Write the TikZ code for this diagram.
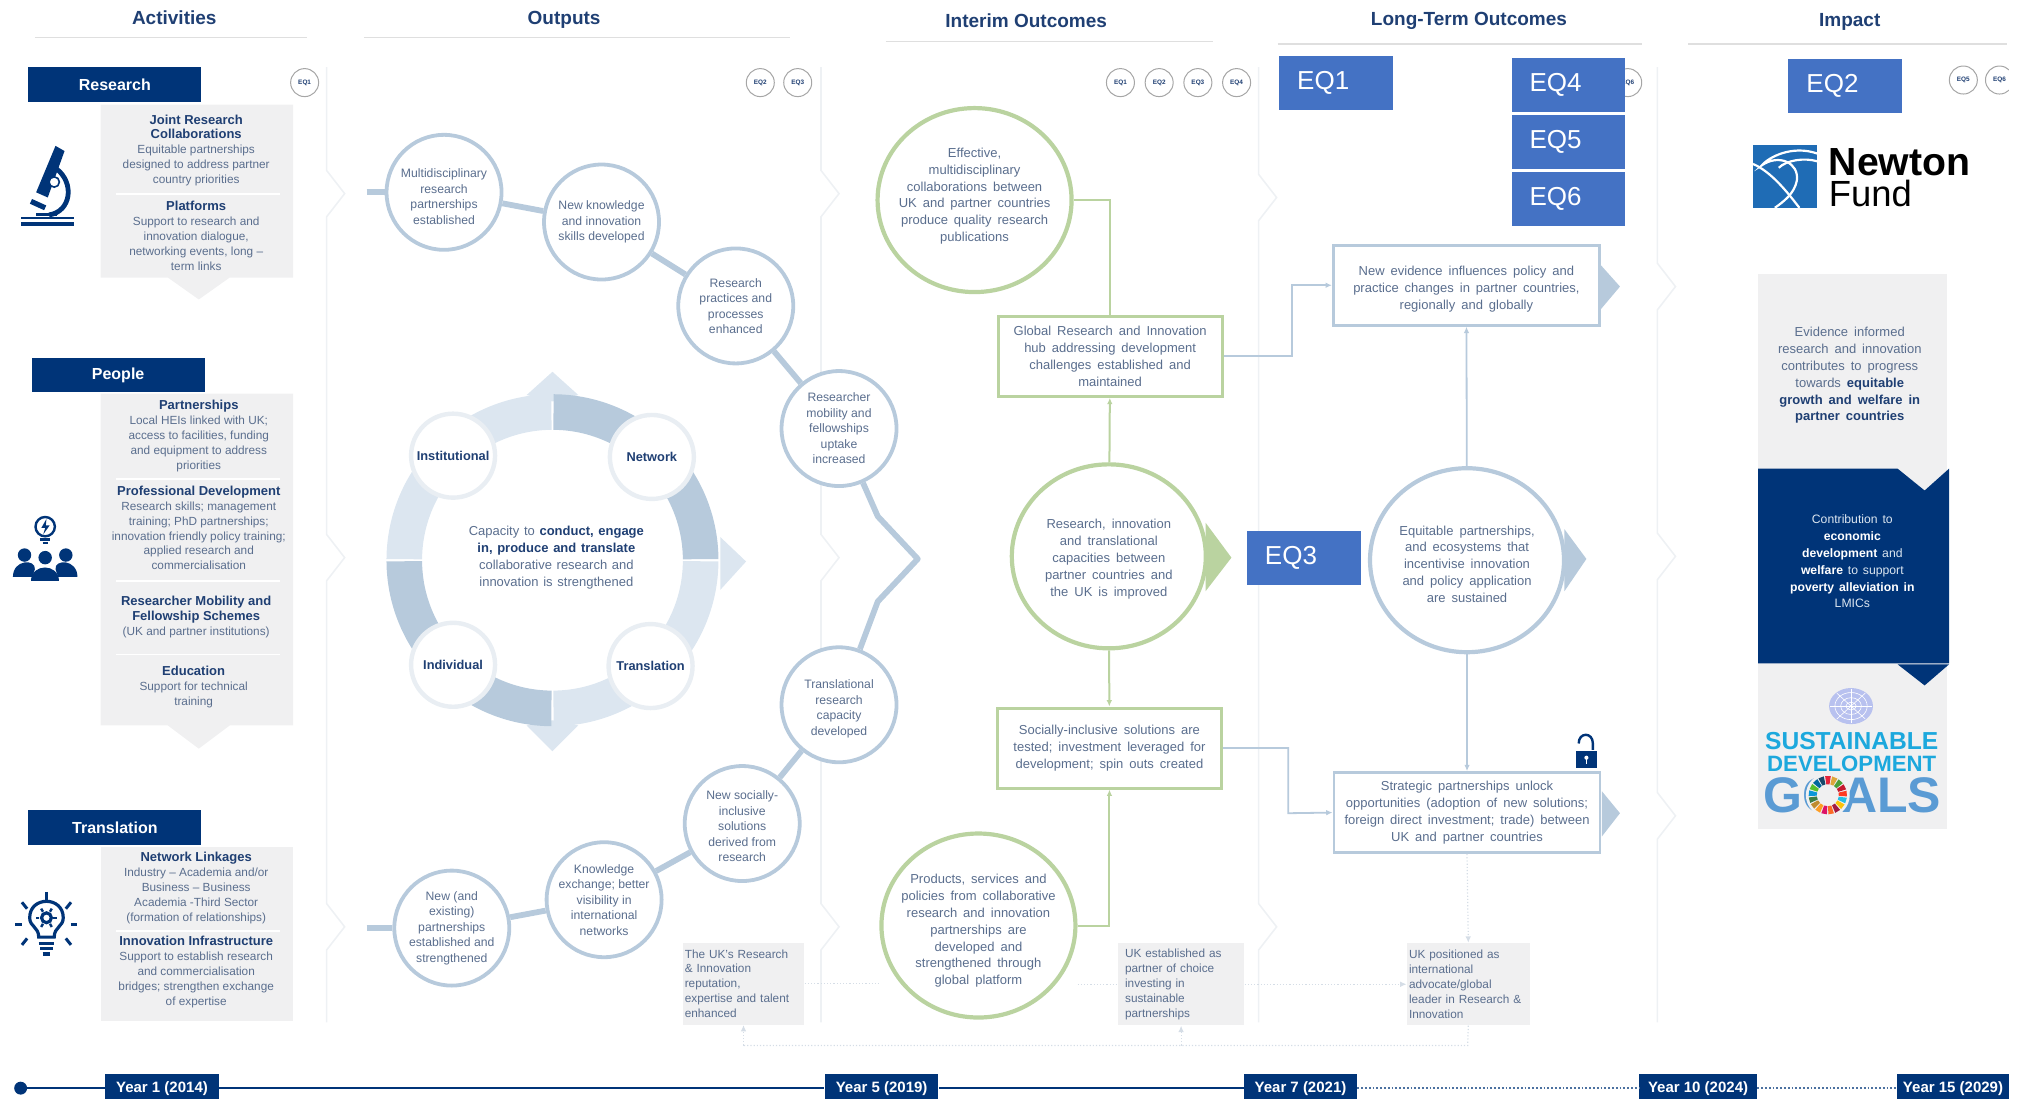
\documentclass[tikz,border=0pt]{standalone}
\usepackage{fontspec}
\setmainfont{Liberation Sans}
\usetikzlibrary{arrows.meta,shapes.geometric}
\definecolor{navy}{HTML}{003478}
\definecolor{txt}{HTML}{5A6E8E}
\definecolor{boldt}{HTML}{1F3F73}
\definecolor{ringd}{HTML}{B7CADC}
\definecolor{ringl}{HTML}{DCE6F0}
\definecolor{greenc}{HTML}{BAD3A0}
\definecolor{eqblue}{HTML}{4472C4}
\definecolor{graybox}{HTML}{F0F0F1}
\definecolor{chev}{HTML}{EEF1F4}
\definecolor{dotc}{HTML}{D5DDE6}
\definecolor{sdgc}{HTML}{1CA8DD}
\definecolor{sdgg}{HTML}{5A9BD4}
\definecolor{nfblue}{HTML}{1F6CB5}
\newcommand{\fA}{\fontsize{5.9}{7.45}\selectfont}
\newcommand{\fB}{\fontsize{6.1}{7.75}\selectfont}
\newcommand{\fC}{\fontsize{6.5}{8.4}\selectfont\spaceskip=.46em\relax}
\newcommand{\fD}{\fontsize{6.5}{8.4}\selectfont\spaceskip=.36em\relax}
\newcommand{\fE}{\fontsize{6.1}{8.4}\selectfont\spaceskip=.4em\relax}
\newcommand{\bb}[1]{\textbf{\textcolor{boldt}{#1}}}
\newcommand{\hh}[1]{\textbf{\textcolor{boldt}{\fontsize{6.5}{7.45}\selectfont #1}}}
\newcommand{\wb}[1]{\textbf{\textcolor{white}{#1}}}
\newcommand{\dn}[1]{\rule{0pt}{#1}}
\tikzset{
  x=0.6454pt,y=-0.6454pt,
  header/.style={font=\fontsize{9.5}{11}\selectfont\bfseries,text=boldt},
  navbox/.style={fill=navy,text=white,font=\fontsize{8}{10}\selectfont\bfseries,minimum width=86.5pt,minimum height=17.2pt,inner sep=0},
  body/.style={font=\fA,text=txt,align=center,inner sep=0},
  eqsmall/.style={circle,draw=gray!70,fill=white,line width=.5pt,minimum size=14pt,inner sep=0,font=\fontsize{3.2}{4}\selectfont\bfseries,text=boldt},
  eqbox/.style={fill=eqblue,text=white,font=\fontsize{13}{15}\selectfont,minimum height=27pt,text width=38.8pt,inner xsep=9pt,inner ysep=0,align=left},
  ocirc/.style={circle,draw=ringd,fill=white,line width=1.9pt,minimum size=57.5pt,inner sep=-1.5pt,font=\fB,text=txt,align=center},
  rcirc/.style={circle,draw=chev!70!ringl,fill=white,line width=2.2pt,minimum size=42pt,inner sep=-2pt,font=\fontsize{6.4}{8}\selectfont\bfseries,text=boldt},
  bigell/.style={ellipse,fill=white,minimum width=97pt,minimum height=92pt,inner sep=-6pt,font=\fC,text=txt,align=center},
  gc/.style={bigell,draw=greenc,line width=2.1pt},
  bc/.style={bigell,draw=ringd,line width=2.1pt},
  gbox/.style={draw=greenc,fill=white,line width=1.5pt,inner sep=0,font=\fC,text=txt,align=center,minimum width=112pt,minimum height=40pt},
  bbox/.style={draw=ringd,fill=white,line width=1.4pt,inner sep=0,font=\fC,text=txt,align=center,minimum width=133pt,minimum height=40pt},
  link/.style={draw=ringd,line width=2.9pt},
  gline/.style={draw=greenc,line width=1pt},
  bline/.style={draw=ringd,line width=.9pt},
  tip/.style={-{Latex[length=3.2pt,width=2.8pt]}},
  dots/.style={draw=dotc,line width=.6pt,densely dotted},
  chevl/.style={draw=chev,line width=.8pt},
  rulel/.style={draw=gray!25,line width=.7pt},
  year/.style={fill=navy,text=white,font=\fontsize{7.5}{9}\selectfont\bfseries,minimum height=14.2pt,inner sep=0},
  grayt/.style={fill=graybox,text=txt,font=\fA,align=left,inner sep=0,minimum height=41pt,anchor=center},
  tl/.style={draw=navy,line width=1.2pt},
  sepw/.style={draw=white,line width=.9pt},
  icon/.style={draw=navy,line width=1.6pt,line cap=round}
}
\begin{document}
\begin{tikzpicture}
\useasboundingbox (0,0) rectangle (1568,851.4);
% column chevron rules
\foreach \x/\a/\b/\c in {253/150/432/718,636/150/432/718,975/153/431/718,1284/222/431/632}{
  \draw[chevl] (\x,52) -- (\x,\a-18) -- (\x+14,\a) -- (\x,\a+18) -- (\x,\b-18) -- (\x+14,\b) -- (\x,\b+18) -- (\x,\c-18) -- (\x+14,\c) -- (\x,\c+18) -- (\x,792);
}
% headers
\node[header] (hA) at (135,14) {Activities};
\node[header] (hO) at (437,15) {Outputs};
\node[header] (hI) at (795,16) {Interim Outcomes};
\node[header] (hL) at (1138,16) {Long-Term Outcomes};
\fill[white] (1214,4) rectangle (1226,28);
\node[header] (hP) at (1433,17) {Impact};
\draw[rulel] (27,29) -- (238,29);
\draw[rulel] (282,29) -- (612,29);
\draw[rulel] (686,32) -- (940,32);
\draw[rulel] (990,34) -- (1272,34);
\draw[rulel] (1308,34) -- (1555,34);
% activities
\fill[graybox] (78,81) -- (227,81) -- (227,215) -- (178,215) -- (154,232) -- (130,215) -- (78,215) -- cycle;
\fill[graybox] (78,305) -- (227,305) -- (227,562) -- (178,562) -- (154,580) -- (130,562) -- (78,562) -- cycle;
\fill[graybox] (78,656) rectangle (227,791);
\node[navbox] (nR) at (89,65.5) {Research};
\node[navbox] (nP) at (91.5,290.5) {People};
\node[navbox] (nT) at (89,641) {Translation};
\draw[sepw] (90,150) -- (217,150);
\draw[sepw] (90,371) -- (217,371);
\draw[sepw] (90,450) -- (217,450);
\draw[sepw] (90,507) -- (217,507);
\draw[sepw] (90,721) -- (217,721);
\node[body] (t1) at (152,116.5) {\hh{Joint Research}\\\hh{Collaborations}\\Equitable partnerships\\designed to address partner\\country priorities};
\node[body] (t2) at (152,182.5) {\hh{Platforms}\\Support to research and\\innovation dialogue,\\networking events, long –\\term links};
\node[body] (t3) at (154,338) {\hh{Partnerships}\\Local HEIs linked with UK;\\access to facilities, funding\\and equipment to address\\priorities};
\node[body] (t4) at (154,409) {\hh{Professional Development}\\Research skills; management\\training; PhD partnerships;\\innovation friendly policy training;\\applied research and\\commercialisation};
\node[body] (t5) at (152,478) {\hh{Researcher Mobility and}\\\hh{Fellowship Schemes}\\(UK and partner institutions)};
\node[body] (t6) at (150,532) {\hh{Education}\\Support for technical\\training};
\node[body] (t7) at (152,688) {\hh{Network Linkages}\\Industry – Academia and/or\\Business – Business\\Academia -Third Sector\\(formation of relationships)};
\node[body] (t8) at (152,753) {\hh{Innovation Infrastructure}\\Support to establish research\\and commercialisation\\bridges; strengthen exchange\\of expertise};
% small EQ circles
\node[eqsmall] (q1) at (236,64) {EQ1};
\node[eqsmall] (q2) at (589,64) {EQ2};
\node[eqsmall] (q3) at (618,64) {EQ3};
\node[eqsmall] (q4) at (868,64) {EQ1};
\node[eqsmall] (q5) at (898,64) {EQ2};
\node[eqsmall] (q6) at (928,64) {EQ3};
\node[eqsmall] (q7) at (958,64) {EQ4};
\node[eqsmall] (q8) at (1261,64) {EQ6};
\node[eqsmall] (q9) at (1521,62) {EQ5};
\node[eqsmall] (q10) at (1549,62) {EQ6};
\fill[white] (1556,40) rectangle (1568,90);
% icons: microscope
\fill[navy] (16,168) rectangle (57,170);
\fill[navy] (16,172) rectangle (57,175);
\fill[navy] (43,113) -- (50,117) -- (37,153) -- (28,149) -- cycle;
\draw[icon,line width=2.6pt,line cap=butt] (24,156) -- (35,161);
\draw[navy,line width=2.4pt] (44,131) .. controls (58,142) and (55,164) .. (38,166.5);
\draw[navy,line width=1.5pt] (28,166.5) -- (44,166.5);
\draw[navy,fill=white,line width=.8pt] (42,141) circle[radius=4];
% icons: people
\draw[navy,line width=1.2pt] (35,408) circle[radius=7.5];
\fill[navy] (36,402) -- (32,409) -- (35,409) -- (33.5,414) -- (38.5,407) -- (35.5,407) -- cycle;
\draw[navy,line width=1.2pt] (31,418) -- (39,418);
\draw[navy,line width=1pt] (33,421) -- (37,421);
\fill[navy] (19,430) circle[radius=5.2];
\fill[navy] (35,432) circle[radius=5.2];
\fill[navy] (51,430) circle[radius=5.2];
\fill[navy] (10,447) .. controls (10,433) and (28,433) .. (27,441) -- (25,447) -- cycle;
\fill[navy] (60,447) .. controls (60,433) and (42,433) .. (43,441) -- (45,447) -- cycle;
\fill[navy] (24,450) .. controls (24,436) and (46,436) .. (46,450) -- cycle;
% icons: bulb
\draw[navy,line width=1.6pt] (30,726) .. controls (30,718) and (23,718) .. (23,711) .. controls (23,694) and (49,694) .. (49,711) .. controls (49,718) and (42,718) .. (42,726) -- cycle;
\draw[navy,line width=1.6pt] (36,711) circle[radius=3.8];
\foreach \a in {0,60,...,300}{\draw[navy,line width=1.2pt] (36,711) ++(\a:3.5pt) -- ++(\a:1.8pt);}
\draw[navy,line width=1.6pt] (30,731) -- (42,731);
\draw[navy,line width=1.6pt] (31,735) -- (41,735);
\draw[navy,line width=1.6pt] (33,739) -- (39,739);
\foreach \u/\v/\w/\z in {36/691/36/698,12/716/17/716,55/716/60/716,17/699/21/704,55/699/51/704,17/732/21/727,55/732/51/727}{\draw[navy,line width=1.5pt] (\u,\v) -- (\w,\z);}
% output ring
\fill[ringl] (408,306) -- (428,288) -- (448,306) -- (428,311) -- cycle;
\fill[ringl] (558,416) -- (578,435) -- (558,457) -- cycle;
\fill[ringl] (408,562) -- (428,582) -- (448,562) -- (428,558) -- cycle;
\begin{scope}[shift={(428,434)}]
  \foreach \s/\e/\c in {0.4/89.6/ringd,90.4/179.6/ringl,180.4/269.6/ringd,270.4/359.6/ringl}{
    \fill[\c] (\s:83pt) arc[start angle=\s,end angle=\e,radius=83pt] -- (\e:65.2pt) arc[start angle=\e,end angle=\s,radius=65.2pt] -- cycle;
  }
\end{scope}
\node[rcirc] (rI) at (351,353) {Institutional};
\node[rcirc] (rN) at (505,354) {Network};
\node[rcirc] (rD) at (351,515) {Individual};
\node[rcirc] (rT) at (504,516) {Translation};
\node[font=\fD,text=txt,align=center,inner sep=0] (rC) at (431,432) {Capacity to \bb{conduct, engage}\\\bb{in, produce and translate}\\collaborative research and\\innovation is strengthened};
% output chain
\coordinate (s1) at (284,149);
\coordinate (s8) at (284,719);
\coordinate (k1) at (680,400);
\coordinate (k2) at (711,433);
\coordinate (k3) at (680,466);
\node[ocirc] (c1) at (344,149) {\dn{8.5pt}Multidisciplinary\\research\\partnerships\\established};
\node[ocirc] (c2) at (466,172) {New knowledge\\and innovation\\skills developed};
\node[ocirc] (c3) at (570,237) {Research\\practices and\\processes\\enhanced};
\node[ocirc] (c4) at (650,332) {Researcher\\mobility and\\fellowships\\uptake\\increased};
\node[ocirc] (c5) at (650,546) {\dn{8.5pt}Translational\\research\\capacity\\developed};
\node[ocirc] (c6) at (575,638) {\dn{7.2pt}New socially-\\inclusive\\solutions\\derived from\\research};
\node[ocirc] (c7) at (468,697) {Knowledge\\exchange; better\\visibility in\\international\\networks};
\node[ocirc] (c8) at (350,719) {New (and\\existing)\\partnerships\\established and\\strengthened};
\draw[link] (s1) -- (c1);
\draw[link] (c1) -- (c2);
\draw[link] (c2) -- (c3);
\draw[link] (c3) -- (c4);
\draw[link,line join=round] (c4) -- (k1) -- (k2) -- (k3) -- (c5);
\draw[link] (c5) -- (c6);
\draw[link] (c6) -- (c7);
\draw[link] (c7) -- (c8);
\draw[link] (s8) -- (c8);
% interim outcomes
\node[gc] (o1) at (755,155) {Effective,\\multidisciplinary\\collaborations between\\UK and partner countries\\produce quality research\\publications\\[-3.2pt]\mbox{}};
\node[gc] (o2) at (859,431) {\dn{7.5pt}Research, innovation\\and translational\\capacities between\\partner countries and\\the UK is improved};
\node[gc] (o3) at (758,717) {\dn{10.2pt}Products, services and\\policies from collaborative\\research and innovation\\partnerships are\\developed and\\strengthened through\\global platform};
\node[gbox] (g1) at (860,276) {Global Research and Innovation\\hub addressing development\\challenges established and\\maintained};
\node[gbox] (g2) at (859.5,579.5) {Socially-inclusive solutions are\\tested; investment leveraged for\\development; spin outs created};
\fill[greenc] (934,405) -- (954,432) -- (934,458) -- cycle;
\draw[gline] (o1.east) -| (g1.north);
\draw[gline,tip] (o2) -- (g1);
\draw[gline,tip] (o2) -- (g2);
\draw[gline,tip] (o3.east) -| (g2.south);
% long-term outcomes
\node[bbox] (b1) at (1136,221) {\dn{8.5pt}New evidence influences policy and\\practice changes in partner countries,\\regionally and globally};
\node[bbox] (b2) at (1136.5,629.5) {Strategic partnerships unlock\\opportunities (adoption of new solutions;\\foreign direct investment; trade) between\\UK and partner countries};
\node[bc] (l1) at (1136.5,434) {\dn{8.5pt}Equitable partnerships,\\and ecosystems that\\incentivise innovation\\and policy application\\are sustained};
\fill[ringd] (1239.8,205) -- (1255,222) -- (1239.8,240) -- cycle;
\fill[ringd] (1241,613) -- (1255,630) -- (1241,648) -- cycle;
\fill[ringd] (1212,410) -- (1229,433) -- (1212,458) -- cycle;
\coordinate (j1) at (1001,221);
\coordinate (j2) at (998,630);
\draw[bline,tip] (g1.east) -| (j1) -- (b1.west);
\draw[bline,tip] (g2.east) -| (j2) -- (b2.west);
\draw[bline,tip] (l1) -- (b1);
\draw[bline,tip] (l1) -- (b2);
% lock
\draw[navy,line width=1.2pt] (1234,581) -- (1234,576) .. controls (1234,567) and (1223,567) .. (1223,576);
\fill[navy] (1221,582) rectangle (1237,595);
\fill[white] (1229,587) circle[radius=1.6];
\fill[white] (1228.4,587) rectangle (1229.6,592);
% bottom grey text
\node[grayt,text width=60.7pt,inner xsep=0] (gb1) at (576,762) {\hspace*{1pt}The UK's Research\\\hspace*{1pt}\& Innovation\\\hspace*{1pt}reputation,\\\hspace*{1pt}expertise and talent\\\hspace*{1pt}enhanced};
\node[grayt,text width=63pt] (gb2) at (915,762.5) {\hspace*{3.5pt}UK established as\\\hspace*{3.5pt}partner of choice\\\hspace*{3.5pt}investing in\\\hspace*{3.5pt}sustainable\\\hspace*{3.5pt}partnerships};
\node[grayt,text width=61.3pt] (gb3) at (1137.5,762.5) {\hspace*{1pt}UK positioned as\\\hspace*{1pt}international\\\hspace*{1pt}advocate/global\\\hspace*{1pt}leader in Research \&\\\hspace*{1pt}Innovation};
\coordinate (bm) at (1137,810);
\draw[dots] (gb1.east) -- (o3.west |- gb1.east);
\draw[dots] (o3.east |- gb2.west) -- (gb2.west);
\draw[dots,tip] (gb2.east) -- (gb3.west);
\draw[dots] (gb3.south) -- (bm) -- (gb1.south |- bm);
\draw[dots,tip] (gb1.south |- bm) -- (gb1.south);
\draw[dots,tip] (gb2.south |- bm) -- (gb2.south);
\draw[dots,tip] (b2.south) -- (gb3.north);
% EQ boxes
\node[eqbox] (E1) at (1035,64.5) {EQ1};
\node[eqbox] (E4) at (1215,65.5) {EQ4};
\node[eqbox] (E5) at (1215,110) {EQ5};
\node[eqbox] (E6) at (1215,154) {EQ6};
\node[eqbox] (E2) at (1429.5,66.5) {EQ2};
\node[eqbox] (E3) at (1010,432.5) {EQ3};
% Newton Fund logo
\fill[nfblue] (1358,112) rectangle (1408,161);
\draw[white,line width=1.1pt] (1408,119) .. controls (1388,112) and (1370,122) .. (1365,128) .. controls (1378,119) and (1394,126) .. (1392,140) .. controls (1390,150) and (1382,156) .. (1375,161);
\draw[white,line width=1.1pt] (1358,127) .. controls (1372,133) and (1384,148) .. (1394,161);
\draw[white,line width=1.1pt] (1408,125) .. controls (1398,122) and (1384,124) .. (1378,130);
\node[font=\fontsize{19.6}{22}\selectfont\bfseries,text=black,anchor=base west,inner sep=0] (nf1) at (1416.5,136) {Newton};
\node[font=\fontsize{18.2}{20}\selectfont,text=black,anchor=base west,inner sep=0] (nf2) at (1416.5,160) {Fund};
% Impact panel
\fill[graybox] (1362,212) rectangle (1508,642);
\fill[navy] (1362,363) -- (1470,363) -- (1491,380) -- (1510,363) -- (1510,514) -- (1362,514) -- cycle;
\fill[navy] (1470,514.6) -- (1491,531) -- (1510,514.6) -- cycle;
\node[font=\fC,text=txt,align=center,inner sep=0] (i1) at (1433,291) {Evidence informed\\research and innovation\\contributes to progress\\towards \bb{equitable}\\\bb{growth and welfare in}\\\bb{partner countries}};
\node[font=\fE,text=ringl,align=center,inner sep=0] (i2) at (1435,435) {Contribution to\\\wb{economic}\\\wb{development} and\\\wb{welfare} to support\\\wb{poverty alleviation in}\\LMICs};
% SDG
\fill[ringd!75!blue!60!white] (1434,547) ellipse[x radius=17,y radius=14];
\draw[white,line width=.3pt] (1434,547) ellipse[x radius=8,y radius=6.5];
\draw[white,line width=.3pt] (1434,547) ellipse[x radius=4,y radius=3];
\draw[white,line width=.3pt] (1434,547) ellipse[x radius=12.5,y radius=10.5];
\draw[white,line width=.3pt] (1418,547) -- (1450,547);
\draw[white,line width=.3pt] (1434,534) -- (1434,560);
\draw[white,line width=.3pt] (1423,537) -- (1445,557);
\draw[white,line width=.3pt] (1445,537) -- (1423,557);
\node[font=\fontsize{12.3}{14}\selectfont\bfseries,text=sdgc,inner sep=0] (s1t) at (1434.5,574) {SUSTAINABLE};
\node[font=\fontsize{11.1}{13}\selectfont\bfseries,text=sdgc,inner sep=0] (s2t) at (1434.5,592) {DEVELOPMENT};
\node[font=\fontsize{25}{27}\selectfont\bfseries,text=sdgg,inner sep=0] (s3t) at (1435,616) {GOALS};
\begin{scope}[shift={(1416,616)}]
  \fill[graybox] (0,0) circle[radius=17];
  \foreach \i/\c in {0/E5243B,1/DDA63A,2/4C9F38,3/C5192D,4/FF3A21,5/26BDE2,6/FCC30B,7/A21942,8/FD6925,9/DD1367,10/FD9D24,11/BF8B2E,12/3F7E44,13/0A97D9,14/56C02B,15/00689D,16/19486A}{
    \pgfmathsetmacro{\st}{90-\i*360/17-9}
    \pgfmathsetmacro{\en}{\st+17}
    \definecolor{wc}{HTML}{\c}
    \fill[wc] (\st:9.6pt) arc[start angle=\st,end angle=\en,radius=9.6pt] -- (\en:5.5pt) arc[start angle=\en,end angle=\st,radius=5.5pt] -- cycle;
  }
\end{scope}
% timeline
\fill[navy] (16,843) circle[radius=5];
\coordinate (y0) at (16,843);
\node[year,minimum width=56.5pt] (y1) at (125.5,843) {Year 1 (2014)};
\node[year,minimum width=56.8pt] (y5) at (683,843) {Year 5 (2019)};
\node[year,minimum width=56.5pt] (y7) at (1007.5,843) {Year 7 (2021)};
\node[year,minimum width=59pt] (y10) at (1315.5,843) {Year 10 (2024)};
\node[year,minimum width=56pt] (y15) at (1513,843) {Year 15 (2029)};
\draw[tl] (y0) -- (y1);
\draw[tl] (y1) -- (y5);
\draw[tl] (y5) -- (y7);
\draw[navy!70,line width=.9pt,densely dotted] (y7) -- (y10);
\draw[navy!70,line width=.9pt,densely dotted] (y10) -- (y15);
\end{tikzpicture}
\end{document}
